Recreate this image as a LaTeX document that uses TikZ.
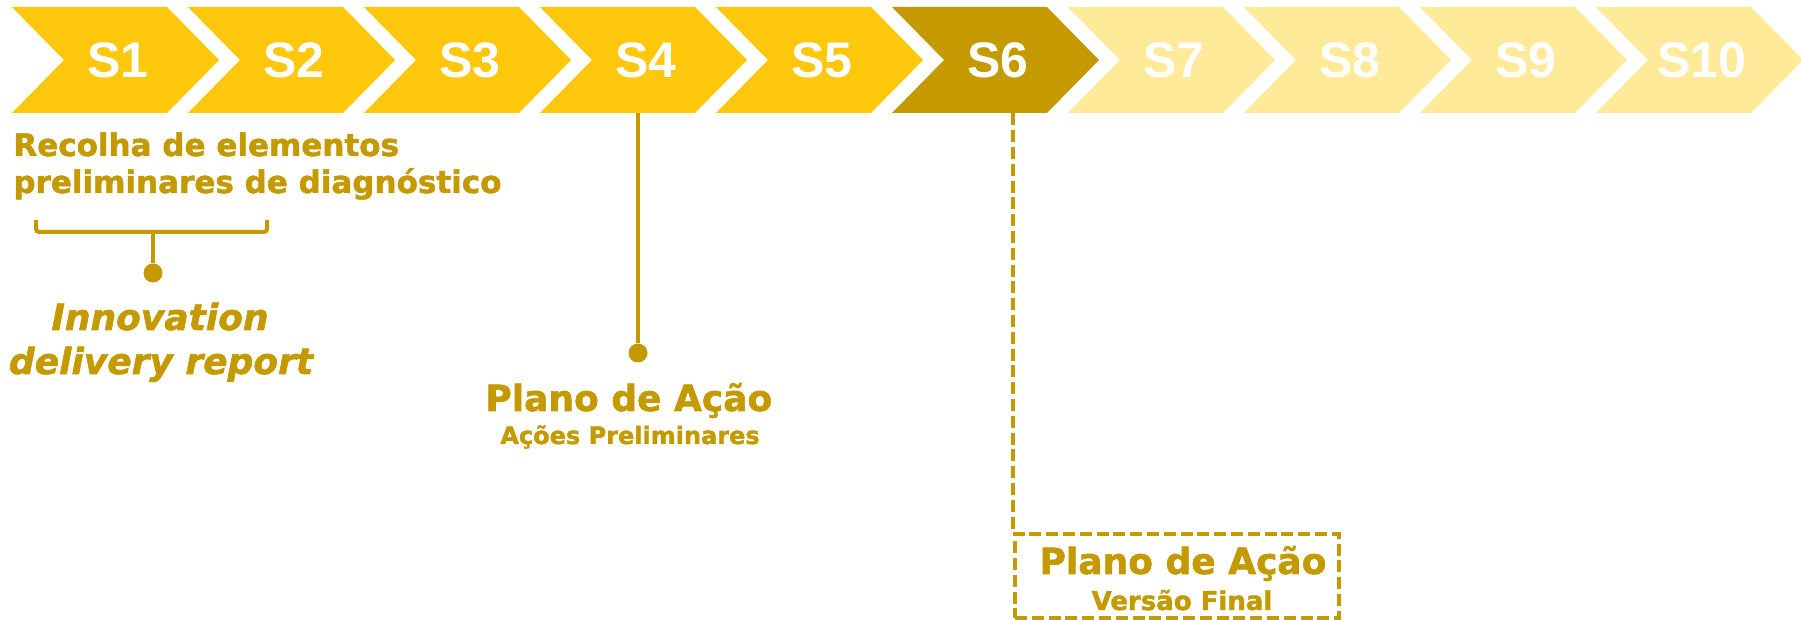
\documentclass[tikz,border=0pt]{standalone}
\usepackage{fontspec}
\newfontfamily\labfont{Liberation Sans}
\newfontfamily\hvfont{DejaVu Sans}[BoldFeatures={FakeBold=1.6},BoldItalicFeatures={FakeBold=1.6}]
\definecolor{cy}{RGB}{253,199,12}
\definecolor{cg}{RGB}{196,154,0}
\definecolor{cp}{RGB}{255,234,153}
\begin{document}
\begin{tikzpicture}[x=0.5pt,y=-0.5pt,
  chevtext/.style={minimum width=103pt,minimum height=53pt,inner sep=0pt,text=white,
    font=\labfont\bfseries\fontsize{25pt}{30pt}\selectfont},
  gold/.style={text=cg,inner sep=0pt},
  bigtxt/.style={gold,font=\hvfont\bfseries\fontsize{18pt}{22pt}\selectfont},
  conn/.style={draw=cg,line width=2pt},
  dconn/.style={draw=cg,line width=2pt,dash pattern=on 6pt off 2.4pt},
  dot/.style={circle,fill=cg,minimum size=9.5pt,inner sep=0pt}]
\useasboundingbox (0,0) rectangle (1801,620);
\foreach \i/\c in {1/cy,2/cy,3/cy,4/cy,5/cy,6/cg,7/cp,8/cp,9/cp,10/cp}{
  \pgfmathsetmacro\L{12+176*(\i-1)}
  \fill[\c] (\L,7) -- ++(155,0) -- ++(52,53) -- ++(-52,53) -- ++(-155,0) -- ++(52,-53) -- cycle;
  \node[chevtext] (s\i) at (\L+106,60) {S\i};
}
% S1-S2 label
\node[gold,anchor=base west,font=\hvfont\bfseries\fontsize{15.5pt}{18.5pt}\selectfont] (rec1) at (13,156) {Recolha de elementos};
\node[gold,anchor=base west,font=\hvfont\bfseries\fontsize{15.5pt}{18.5pt}\selectfont] (rec2) at (13,193) {preliminares de diagnóstico};
\coordinate (bl) at (36,220);
\coordinate (br) at (267,220);
\coordinate (bs) at (153,232);
\node[dot] (d1) at (153,273) {};
\draw[conn,rounded corners=1.5pt] (bl) -- ++(0,12) -- ++(231,0) -- (br);
\draw[conn] (bs) -- (d1);
\node[gold,anchor=base,font=\hvfont\bfseries\itshape\fontsize{18pt}{22pt}\selectfont] (inn1) at (160,330) {Innovation};
\node[gold,anchor=base,font=\hvfont\bfseries\itshape\fontsize{18pt}{22pt}\selectfont] (inn2) at (161,374) {delivery report};
% S4
\node[dot] (d2) at (638,353) {};
\draw[conn] (s4.south -| d2) -- (d2);
\node[bigtxt,anchor=base west] (pa1) at (485,411) {Plano de Ação};
\node[gold,anchor=base west,font=\hvfont\bfseries\fontsize{12pt}{14pt}\selectfont] (pa2) at (500,444) {Ações Preliminares};
% S6
\node[dconn,minimum width=162pt,minimum height=42pt,inner sep=0pt] (vbox) at (1177,576) {};
\draw[dconn] (s6.south -| vbox.west) -- (vbox.north west);
\node[bigtxt,anchor=base] (pf1) at (1183,574) {Plano de Ação};
\node[gold,anchor=base,font=\hvfont\bfseries\fontsize{13pt}{15pt}\selectfont] (pf2) at (1182,610) {Versão Final};
\end{tikzpicture}
\end{document}
